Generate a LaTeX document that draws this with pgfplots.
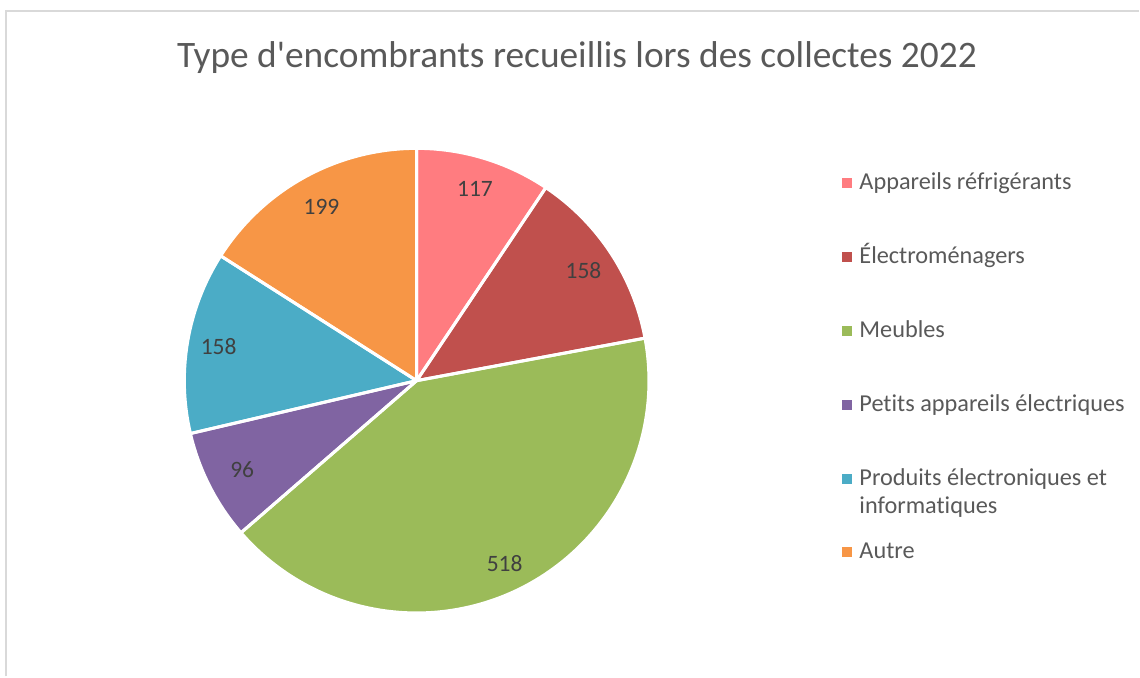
\documentclass[border=0pt]{standalone}
\usepackage{pgfplots}
\usepackage{pgfplotstable}
\pgfplotsset{compat=1.18}
\usepackage{fontspec}
\setmainfont{Carlito}[Ligatures={NoCommon,NoRequired,NoContextual}]
\usetikzlibrary{calc}
\definecolor{cA}{HTML}{FF7C80}
\definecolor{cB}{HTML}{C0504D}
\definecolor{cC}{HTML}{9BBB59}
\definecolor{cD}{HTML}{8064A2}
\definecolor{cE}{HTML}{4BACC6}
\definecolor{cF}{HTML}{F79646}
\definecolor{txt}{HTML}{595959}
\definecolor{lbl}{HTML}{404040}
\definecolor{frame}{HTML}{D9D9D9}
\pgfplotstableread{
label value
A 117
B 158
C 518
D 96
E 158
F 199
}\piedata
\newcommand\getval[2]{\pgfplotstablegetelem{#2}{value}\of\piedata\expandafter\let\csname v#1\endcsname\pgfplotsretval}
\begin{document}
\begin{tikzpicture}
\getval{A}{0}\getval{B}{1}\getval{C}{2}\getval{D}{3}\getval{E}{4}\getval{F}{5}
\pgfmathsetmacro\T{\vA+\vB+\vC+\vD+\vE+\vF}
\pgfmathsetmacro\aA{90}
\pgfmathsetmacro\aB{\aA-360*(\vA/\T)}
\pgfmathsetmacro\aC{\aB-360*(\vB/\T)}
\pgfmathsetmacro\aD{\aC-360*(\vC/\T)}
\pgfmathsetmacro\aE{\aD-360*(\vD/\T)}
\pgfmathsetmacro\aF{\aE-360*(\vE/\T)}
\pgfmathsetmacro\aG{\aF-360*(\vF/\T)}
\pgfmathsetmacro\mA{(\aA+\aB)/2}
\pgfmathsetmacro\mB{(\aB+\aC)/2}
\pgfmathsetmacro\mC{(\aC+\aD)/2}
\pgfmathsetmacro\mD{(\aD+\aE)/2}
\pgfmathsetmacro\mE{(\aE+\aF)/2}
\pgfmathsetmacro\mF{(\aF+\aG)/2}
\newcommand\slicepath[2]{(axis cs:417,296) -- ($(axis cs:417,296)+(#1:232.5pt)$) arc[start angle=#1,end angle=#2,radius=232.5pt] -- cycle}
\begin{axis}[scale only axis, width=1140pt, height=677pt,
  xmin=0, xmax=1140, ymin=0, ymax=677, hide axis, clip=false]
\path (axis cs:0,0) rectangle (axis cs:1140,677);
\draw[frame, line width=2pt] (axis cs:6,0) -- (axis cs:6,665.5) -- (axis cs:1140,665.5);
\fill[cA] \slicepath{\aA}{\aB};
\fill[cB] \slicepath{\aB}{\aC};
\fill[cC] \slicepath{\aC}{\aD};
\fill[cD] \slicepath{\aD}{\aE};
\fill[cE] \slicepath{\aE}{\aF};
\fill[cF] \slicepath{\aF}{\aG};
\draw[white, line width=3pt, line join=round] \slicepath{\aA}{\aB};
\draw[white, line width=3pt, line join=round] \slicepath{\aB}{\aC};
\draw[white, line width=3pt, line join=round] \slicepath{\aC}{\aD};
\draw[white, line width=3pt, line join=round] \slicepath{\aD}{\aE};
\draw[white, line width=3pt, line join=round] \slicepath{\aE}{\aF};
\draw[white, line width=3pt, line join=round] \slicepath{\aF}{\aG};
\begin{scope}[every node/.style={text=lbl, font=\fontsize{23.5}{28}\selectfont}]
\node at ($(axis cs:417,296)+(\mA:201pt)$) {\vA};
\node at ($(axis cs:417,296)+(\mB:200pt)$) {\vB};
\node at ($(axis cs:417,296)+(\mC:203pt)$) {\vC};
\node at ($(axis cs:417,296)+(\mD:196pt)$) {\vD};
\node at ($(axis cs:417,296)+(\mE:201pt)$) {\vE};
\node at ($(axis cs:417,296)+(\mF:198pt)$) {\vF};
\end{scope}
\node[text=txt, anchor=base, font=\fontsize{37.4}{44}\selectfont] at (axis cs:577.5,609) {Type d\textquotesingle encombrants recueillis lors des collectes 2022};
\begin{scope}[every node/.style={text=txt, anchor=base west, inner sep=0pt, font=\fontsize{24.3}{29}\selectfont}]
\fill[cA] (axis cs:843,489) rectangle (axis cs:853,499);
\node at (axis cs:860,487) {Appareils réfrigérants};
\fill[cB] (axis cs:843,415) rectangle (axis cs:853,425);
\node at (axis cs:860,413) {Électroménagers};
\fill[cC] (axis cs:843,341) rectangle (axis cs:853,351);
\node at (axis cs:860,339) {Meubles};
\fill[cD] (axis cs:843,267) rectangle (axis cs:853,277);
\node at (axis cs:860,265) {Petits appareils électriques};
\fill[cE] (axis cs:843,193) rectangle (axis cs:853,203);
\node at (axis cs:860,191) {Produits électroniques et};
\node at (axis cs:860,163) {informatiques};
\fill[cF] (axis cs:843,120) rectangle (axis cs:853,130);
\node at (axis cs:860,118) {Autre};
\end{scope}
\end{axis}
\end{tikzpicture}
\end{document}
